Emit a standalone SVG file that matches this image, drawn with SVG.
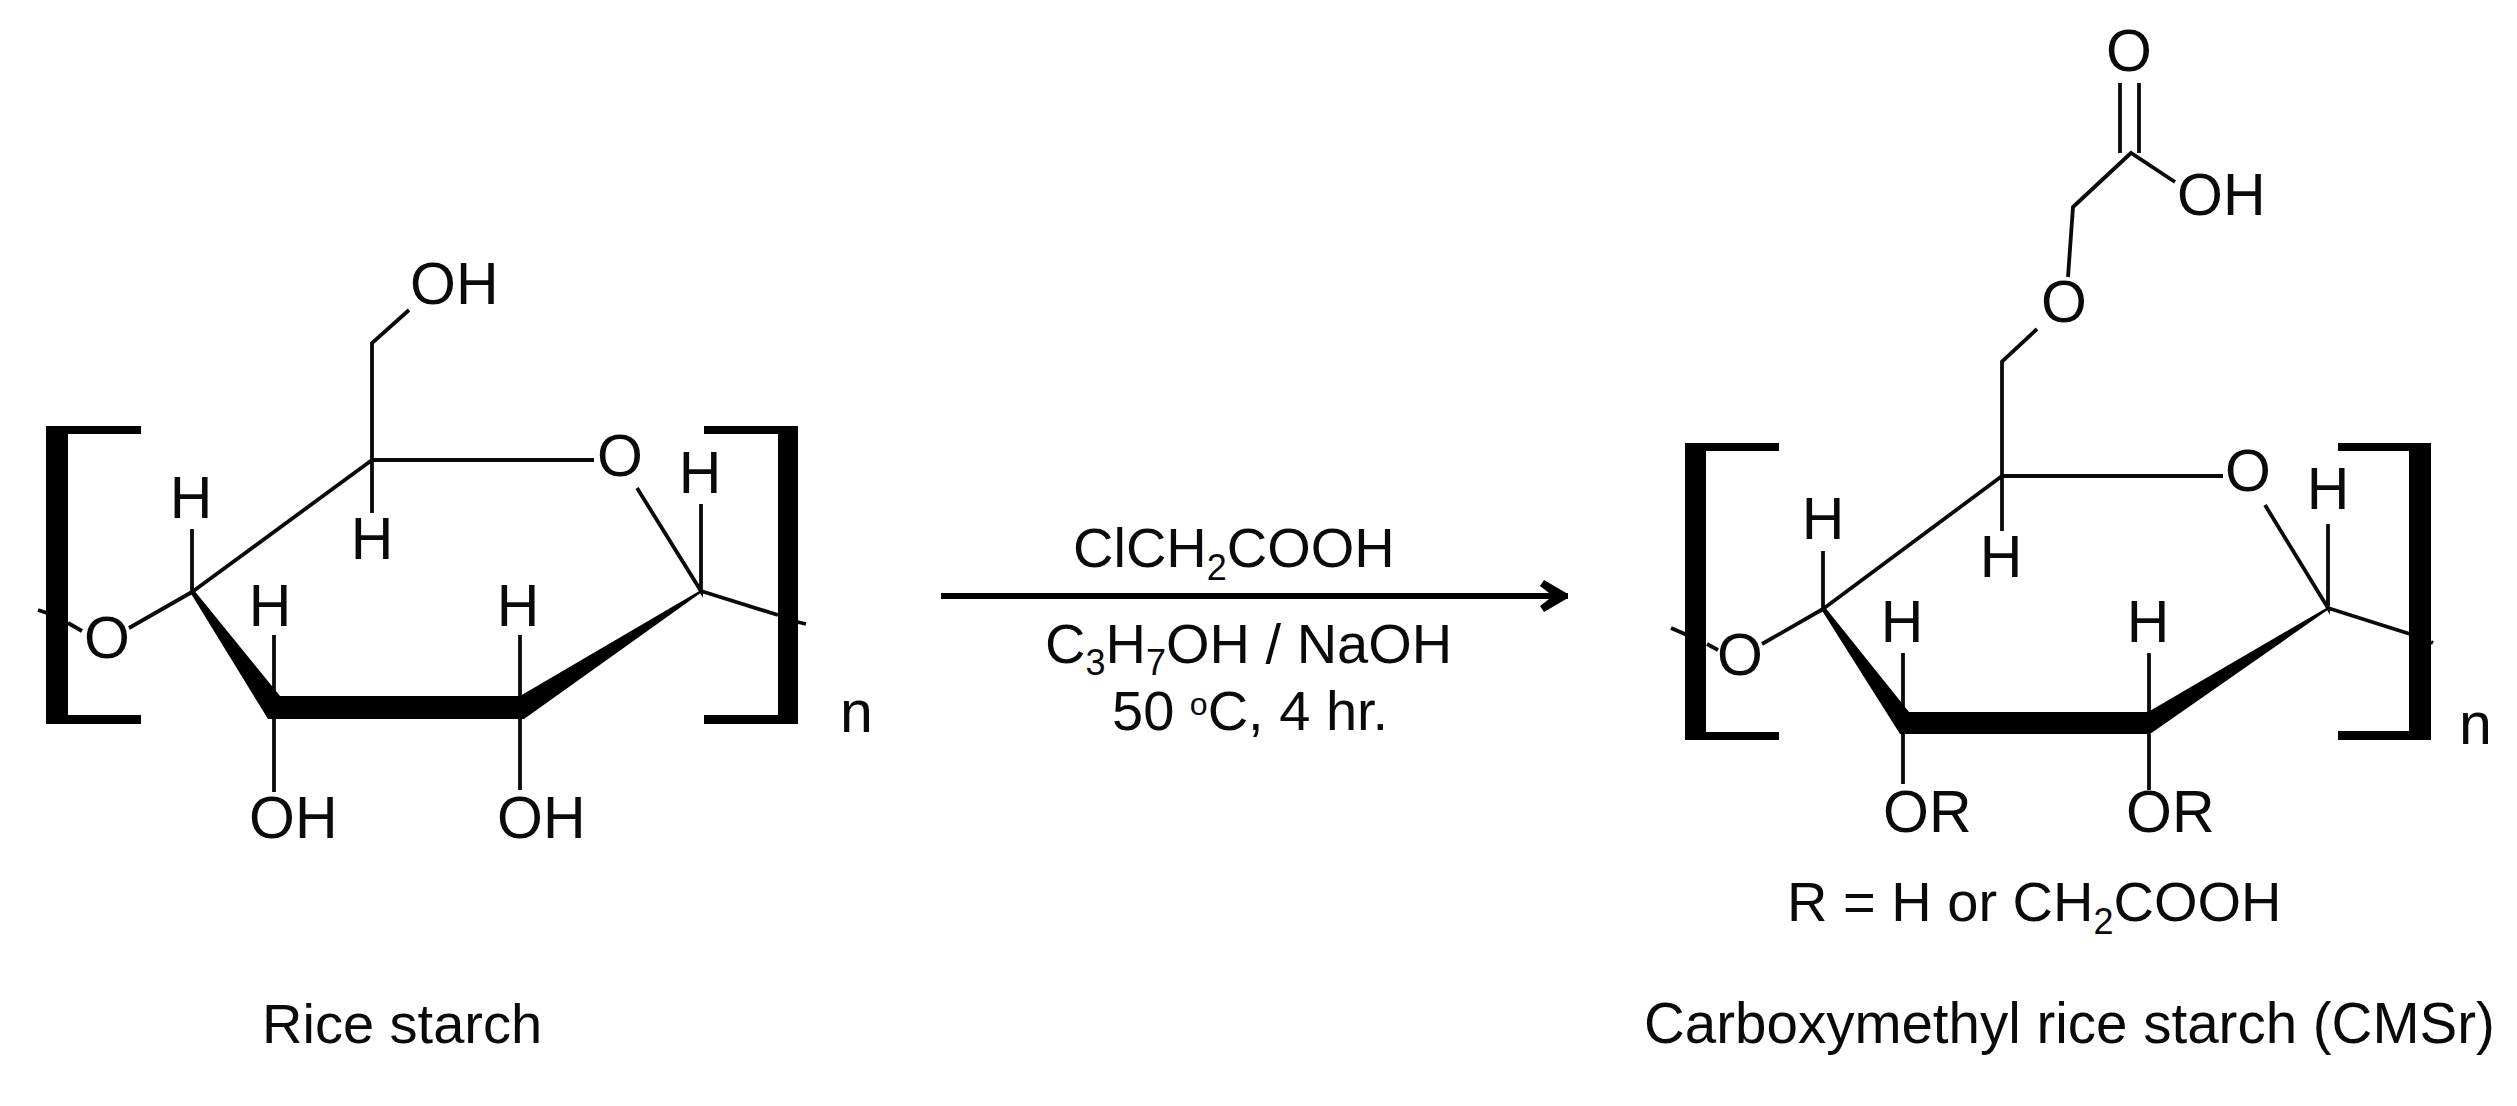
<svg xmlns="http://www.w3.org/2000/svg" width="2517" height="1106" viewBox="0 0 2517 1106">
<style>
text{font-family:"Liberation Sans",Arial,sans-serif;font-size:56px;fill:#0a0a0a}
.a{font-size:59px}
.m{text-anchor:middle}
.sub{font-size:36px}
.deg{font-size:32px}
.b{fill:none;stroke:#0a0a0a;stroke-width:3.800;stroke-linecap:butt;stroke-linejoin:miter}
.w{fill:#000;stroke:none}
.br{fill:#000;stroke:none}
.ar{fill:none;stroke:#000;stroke-width:6}
</style>
<defs>
<marker id="head" markerUnits="userSpaceOnUse" markerWidth="34" markerHeight="36" refX="28" refY="15" orient="auto" overflow="visible"><path d="M0 5L4 -1L28 13V17L4 31L0 25L13 15Z" fill="#000"/></marker>
</defs>
<rect width="2517" height="1106" fill="#fff"/>
<g id="connectors">
<g id="bonds-left">
<path class="b" d="M409 310L372 343V513M372 460H594M372 460L192 592V529M192 592L129 628M38 610L47 613M68 623L82 631M637 488L701 591V504M701 591L778 615M789 620L806 624M274 635V696M520 635V696M274 719V792M520 719V790"/>
<path class="w" d="M190 592L193 589L280 696H520L701 590L702 592L524 719H268Z"/>
</g>
<g id="bonds-right">
<path class="b" d="M2120 83V153M2139 83V153M2175 182L2131 153L2073 207L2068 277M2037 329L2002 361.500V531M2002 476H2223M2002 476L1823 609V551M1823 609L1762 644M1671 628L1687 635M1707 644L1718 650M2265 505L2328 608V524M2328 608L2410 634M2431 642L2433 643M1903 653V712M2149 653V712M1903 734V784M2149 734V790"/>
<path class="w" d="M1821 609L1824 606L1909 712H2148L2328 607L2329 609L2150 734H1900Z"/>
</g>
<path id="reaction-arrow" class="ar" d="M941 596H1568" marker-end="url(#head)"/>
</g>
<g id="rice-starch">
<path class="br" d="M46 426H141V434H68V715H141V724H46Z"/>
<path class="br" d="M798 426H704V434H778V715H704V724H798Z"/>
<text class="a" x="410" y="304">OH</text>
<text class="a m" x="620" y="476">O</text>
<text class="a m" x="107" y="658">O</text>
<text class="a m" x="191" y="518">H</text>
<text class="a m" x="372" y="559">H</text>
<text class="a m" x="270" y="626">H</text>
<text class="a m" x="518" y="626">H</text>
<text class="a m" x="700" y="493">H</text>
<text class="a" x="249" y="838">OH</text>
<text class="a" x="497" y="838">OH</text>
<text class="a" x="840" y="732">n</text>
<text x="262" y="1043">Rice starch</text>
</g>
<g id="reagents">
<text x="1073" y="567">ClCH<tspan class="sub" dy="13">2</tspan><tspan dy="-13">COOH</tspan></text>
<text x="1045" y="663">C<tspan class="sub" dy="12">3</tspan><tspan dy="-12">H</tspan><tspan class="sub" dy="12">7</tspan><tspan dy="-12">OH / NaOH</tspan></text>
<text x="1112" y="730">50 <tspan class="deg" dy="-15">o</tspan><tspan dy="15">C, 4 hr.</tspan></text>
</g>
<g id="cms-rice-starch">
<path class="br" d="M1685 443H1779V451H1706V732H1779V740H1685Z"/>
<path class="br" d="M2431 443H2338V451H2409V731H2338V740H2431Z"/>
<text class="a m" x="2129" y="71">O</text>
<text class="a" x="2177" y="215">OH</text>
<text class="a m" x="2064" y="322">O</text>
<text class="a m" x="2248" y="491">O</text>
<text class="a m" x="1740" y="675">O</text>
<text class="a m" x="2328" y="509">H</text>
<text class="a m" x="1823" y="539">H</text>
<text class="a m" x="2001" y="577">H</text>
<text class="a m" x="1902" y="642">H</text>
<text class="a m" x="2148" y="642">H</text>
<text class="a" x="1883" y="832">OR</text>
<text class="a" x="2126" y="832">OR</text>
<text class="a" x="2459" y="744">n</text>
<text x="1787" y="921">R = H or CH<tspan class="sub" dy="13">2</tspan><tspan dy="-13">COOH</tspan></text>
<text x="1644" y="1043" style="font-size:56.500px">Carboxymethyl rice starch (CMSr)</text>
</g>
</svg>
